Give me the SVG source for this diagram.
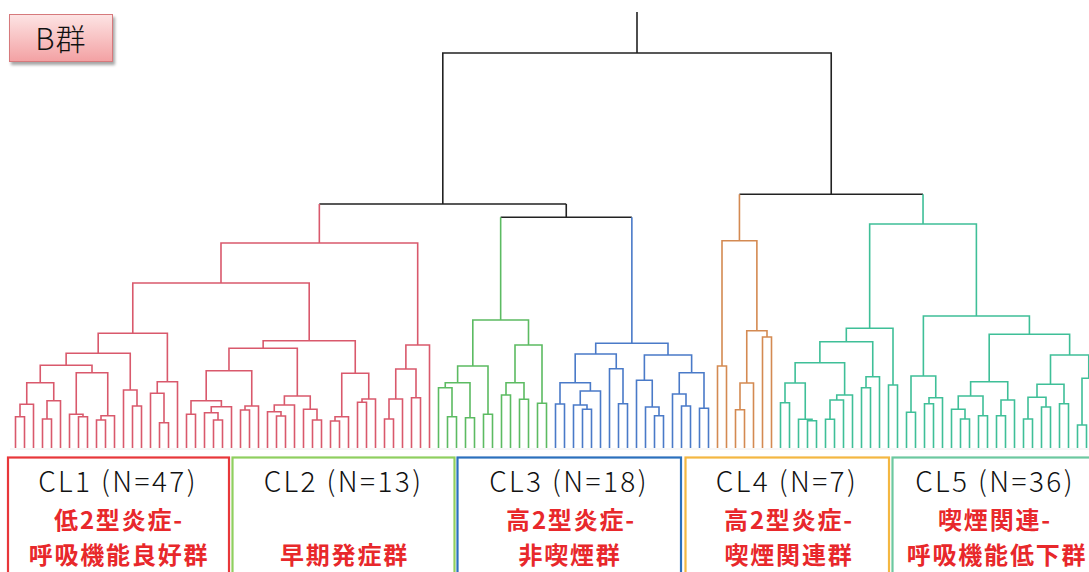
<svg xmlns="http://www.w3.org/2000/svg" width="1089" height="572" viewBox="0 0 1089 572">
<defs>
<linearGradient id="pink" x1="0" y1="0" x2="0" y2="1">
<stop offset="0" stop-color="#fde4e4"/>
<stop offset="1" stop-color="#f3a1a3"/>
</linearGradient>
<filter id="sh" x="-10%" y="-10%" width="130%" height="140%">
<feDropShadow dx="2" dy="3" stdDeviation="1.6" flood-color="#000" flood-opacity="0.35"/>
</filter>
</defs>
<style>
.l{fill:none;stroke-width:1.6;stroke-linejoin:miter;stroke-linecap:butt}
.k{stroke:#222}
.c1{stroke:#d9596c}
.c2{stroke:#5cbb62}
.c3{stroke:#4a7ac8}
.c4{stroke:#d48a52}
.c5{stroke:#3fbf98}
.box{fill:#fff;stroke-width:2.2}
.cl{font-family:"Noto Sans CJK JP","Noto Sans",sans-serif;font-size:28px;font-weight:300;letter-spacing:2.4px;fill:#111;text-anchor:middle}
.jp{font-family:"Noto Sans CJK JP",sans-serif;font-size:24px;font-weight:bold;letter-spacing:1.8px;fill:#e8282b;text-anchor:middle}
</style>
<rect width="1089" height="572" fill="#fff"/>

<g id="label-b">
<rect x="9.5" y="14.5" width="103" height="47" fill="url(#pink)" stroke="#d6797b" stroke-width="1" filter="url(#sh)"/>
<text x="61" y="50" font-family="'Noto Sans CJK JP',sans-serif" font-size="30" font-weight="300" fill="#111" text-anchor="middle" letter-spacing="1">B群</text>
</g>

<g id="connectors">
<line x1="10" y1="449" x2="1089" y2="449" stroke="#eeeeee" stroke-width="1"/>
<path class="l k" d="M637,12V53M442.8,204V53H831.23V194.3M319.34,204H566.26M566.26,204V217.3M500.66,217.3H631.86M739.44,194.3H923.03"/>
<path class="l c1" d="M15.5,448V416.7H24.5V448M20,416.7V404.3H33.5V448M42.5,448V419H51.5V448M47,419V400.7H60.5V448M26.75,404.3V382.7H53.75V400.7M78.5,448V416.7H87.5V448M69.5,448V414.3H83V416.7M96.5,448V420H105.5V448M101,420V415.7H114.5V448M76.25,414.3V372.7H107.75V415.7M40.25,382.7V365.3H92V372.7M132.5,448V406H141.5V448M123.5,448V390H137V406M66.13,365.3V353.3H130.25V390M159.5,448V422.7H168.5V448M150.5,448V393.3H164V422.7M157.25,393.3V381.7H177.5V448M98.19,353.3V333.3H167.38V381.7M186.5,448V414.3H195.5V448M213.5,448V420H222.5V448M204.5,448V412.7H218V420M211.25,412.7V406.7H231.5V448M191,414.3V400.7H221.38V406.7M240.5,448V410H249.5V448M245,410V406H258.5V448M206.19,400.7V370.7H251.75V406M276.5,448V416H285.5V448M267.5,448V411.7H281V416M274.25,411.7V405H294.5V448M312.5,448V420H321.5V448M303.5,448V409.3H317V420M284.38,405V396H310.25V409.3M228.97,370.7V348.3H297.31V396M330.5,448V421H339.5V448M335,421V416.7H348.5V448M357.5,448V402.3H366.5V448M362,402.3V399H375.5V448M341.75,416.7V373.3H368.75V399M263.14,348.3V340.7H355.25V373.3M132.78,333.3V283H309.2V340.7M384.5,448V419H393.5V448M389,419V399H402.5V448M411.5,448V397.7H420.5V448M395.75,399V369H416V397.7M405.88,369V345H429.5V448M220.99,283V243H417.69V345M319.34,243V204"/>
<path class="l c2" d="M447.5,448V416.7H456.5V448M438.5,448V387.7H452V416.7M465.5,448V417.7H474.5V448M445.25,387.7V382.7H470V417.7M483.5,448V414.3H492.5V448M457.63,382.7V366H488V414.3M501.5,448V395H510.5V448M519.5,448V399.3H528.5V448M506,395V382.7H524V399.3M537.5,448V403.3H546.5V448M515,382.7V345H542V403.3M472.81,366V320H528.5V345M500.66,320V217.3"/>
<path class="l c3" d="M555.5,448V404H564.5V448M582.5,448V409.3H591.5V448M573.5,448V405H587V409.3M580.25,405V391H600.5V448M560,404V382.7H590.38V391M618.5,448V403.7H627.5V448M609.5,448V368.7H623V403.7M575.19,382.7V354H616.25V368.7M654.5,448V415.7H663.5V448M645.5,448V407H659V415.7M636.5,448V380.3H652.25V407M681.5,448V406H690.5V448M672.5,448V394H686V406M699.5,448V408.3H708.5V448M679.25,394V372.7H704V408.3M644.38,380.3V355H691.63V372.7M595.72,354V343.3H668V355M631.86,343.3V217.3"/>
<path class="l c4" d="M717.5,448V366H726.5V448M735.5,448V409.7H744.5V448M740,409.7V383H753.5V448M762.5,448V337H771.5V448M746.75,383V330.7H767V337M722,366V240.7H756.88V330.7M739.44,240.7V194.3"/>
<path class="l c5" d="M780.5,448V402.7H789.5V448M807.5,448V420.7H816.5V448M798.5,448V419.3H812V420.7M785,402.7V383H805.25V419.3M825.5,448V419.3H834.5V448M830,419.3V400H843.5V448M836.75,400V395H852.5V448M795.13,383V362.7H844.63V395M861.5,448V387.7H870.5V448M866,387.7V376.7H879.5V448M819.88,362.7V341.7H872.75V376.7M888.5,448V385H897.5V448M846.31,341.7V328.3H893V385M906.5,448V412.3H915.5V448M924.5,448V403.7H933.5V448M929,403.7V397.7H942.5V448M911,412.3V376H935.75V397.7M960.5,448V419H969.5V448M951.5,448V409.3H965V419M978.5,448V415.7H987.5V448M958.25,409.3V396H983V415.7M996.5,448V415.7H1005.5V448M1001,415.7V400H1014.5V448M970.63,396V381.7H1007.75V400M1023.5,448V419H1032.5V448M1041.5,448V407H1050.5V448M1028,419V397.3H1046V407M1059.5,448V403.7H1068.5V448M1037,397.3V384.3H1064V403.7M1077.5,448V425H1086.5V448M1082,425V378.3H1095.5V448M1050.5,384.3V355H1088.75V378.3M989.19,381.7V334.3H1069.63V355M923.38,376V316H1029.41V334.3M869.66,328.3V224H976.39V316M923.03,224V194.3"/>
</g>

<g id="cl1">
<rect class="box" x="8" y="457.5" width="221" height="130" stroke="#e8373a"/>
<text class="cl" x="118" y="492">CL1 (N=47)</text>
<text class="jp"><tspan x="119" y="528.7">低2型炎症-</tspan><tspan x="119" y="563.5">呼吸機能良好群</tspan></text>
</g>
<g id="cl2">
<rect class="box" x="232.5" y="457.5" width="222" height="130" stroke="#8fcf5f"/>
<text class="cl" x="343.5" y="492">CL2 (N=13)</text>
<text class="jp" x="344.5" y="563.5">早期発症群</text>
</g>
<g id="cl3">
<rect class="box" x="457.5" y="457.5" width="223.5" height="130" stroke="#2b70bd"/>
<text class="cl" x="569" y="492">CL3 (N=18)</text>
<text class="jp"><tspan x="571" y="528.7">高2型炎症-</tspan><tspan x="570" y="563.5">非喫煙群</tspan></text>
</g>
<g id="cl4">
<rect class="box" x="685.5" y="457.5" width="203.5" height="130" stroke="#f4b742"/>
<text class="cl" x="787" y="492">CL4 (N=7)</text>
<text class="jp"><tspan x="789" y="528.7">高2型炎症-</tspan><tspan x="789" y="563.5">喫煙関連群</tspan></text>
</g>
<g id="cl5">
<rect class="box" x="892.5" y="457.5" width="210" height="130" stroke="#6cc8a0"/>
<text class="cl" x="995" y="492">CL5 (N=36)</text>
<text class="jp"><tspan x="995" y="528.7">喫煙関連-</tspan><tspan x="997" y="563.5">呼吸機能低下群</tspan></text>
</g>
</svg>
